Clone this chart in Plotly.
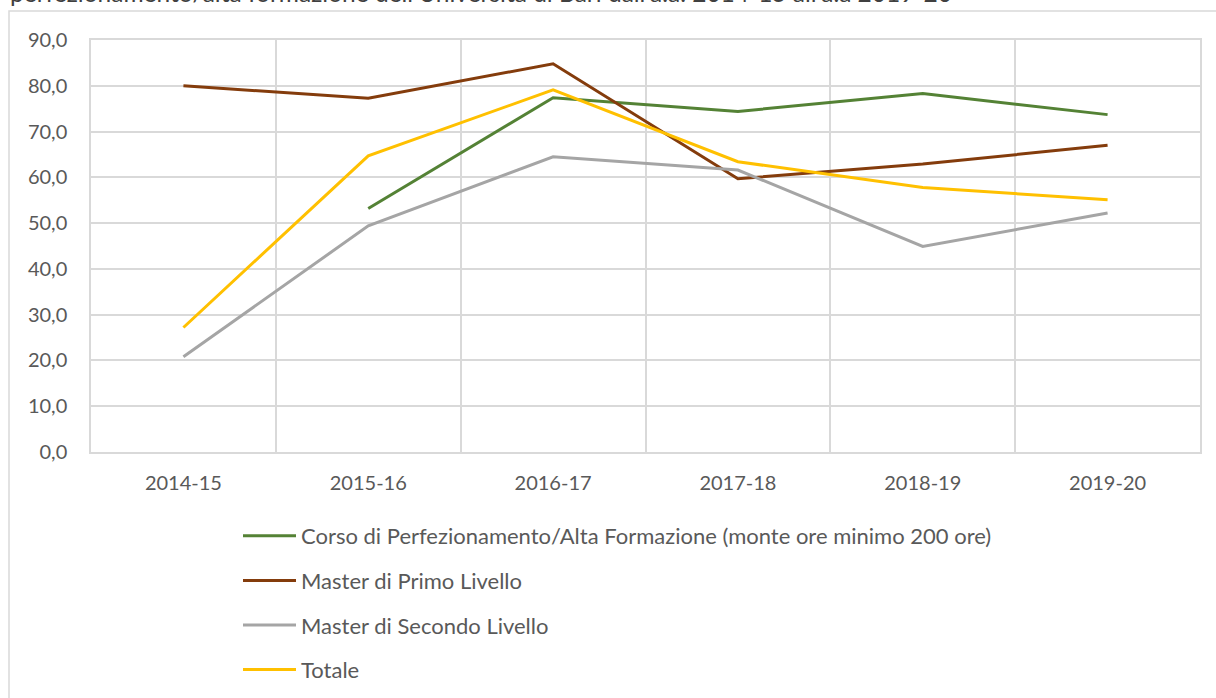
import plotly.graph_objects as go

categories = ["2014-15", "2015-16", "2016-17", "2017-18", "2018-19", "2019-20"]
corso = [None, 53.2, 77.4, 74.4, 78.3, 73.7]
primo = [80.0, 77.3, 84.8, 59.7, 62.9, 67.0]
secondo = [20.8, 49.4, 64.5, 61.6, 44.9, 52.2]
totale = [27.2, 64.7, 79.1, 63.4, 57.8, 55.1]

series_names = [
    "Corso di Perfezionamento/Alta Formazione (monte ore minimo 200 ore)",
    "Master di Primo Livello",
    "Master di Secondo Livello",
    "Totale",
]
series_values = [corso, primo, secondo, totale]
series_colors = ["#548235", "#843C0C", "#A5A5A5", "#FFC000"]

# page is 1216x698; body margin removed via post_script
W, H = 1216, 698
# plot area in page pixels
L, R, T, B = 91, 1200, 40, 452
FONT = "Lato"
TXT = "#595959"

fig = go.Figure()
for i, (name, vals, col) in enumerate(zip(series_names, series_values, series_colors)):
    fig.add_trace(go.Scatter(
        x=categories, y=vals, name=name, mode="lines",
        line=dict(color=col, width=3), connectgaps=False,
        legendgroup=f"g{i}",
    ))

def px_x(p):
    return (p - L) / (R - L)

def px_y(p):
    return (B - p) / (B - T)

fig.update_layout(
    width=W, height=H,
    margin=dict(l=L, r=W - R, t=T, b=H - B, pad=0, autoexpand=False),
    plot_bgcolor="white", paper_bgcolor="white",
    separators=",.",
    font=dict(family=FONT, size=20, color=TXT),
    showlegend=True,
    legend=dict(
        x=px_x(238), y=px_y(515), xanchor="left", yanchor="top",
        orientation="v", traceorder="grouped", tracegroupgap=13,
        font=dict(family=FONT, size=22, color=TXT),
        itemwidth=53, bgcolor="rgba(0,0,0,0)",
    ),
    xaxis=dict(
        type="category", range=[-0.5, 5.5], tickson="boundaries",
        showgrid=True, gridcolor="#D9D9D9", gridwidth=1.5,
        showline=True, linecolor="#D9D9D9", linewidth=1.5, mirror=True,
        ticks="", ticklabelstandoff=12,
        tickfont=dict(family=FONT, size=20, color=TXT),
        zeroline=False,
    ),
    yaxis=dict(
        range=[0, 90], dtick=10, tick0=0, tickformat=".1f",
        showgrid=True, gridcolor="#D9D9D9", gridwidth=1.5,
        showline=True, linecolor="#D9D9D9", linewidth=1.5, mirror=True,
        ticks="", ticklabelstandoff=18,
        tickfont=dict(family=FONT, size=20, color=TXT),
        zeroline=False,
    ),
    shapes=[dict(
        type="rect", xref="paper", yref="paper",
        x0=px_x(9), x1=px_x(1240), y0=px_y(720), y1=px_y(11),
        line=dict(color="#D9D9D9", width=1.5), fillcolor="rgba(0,0,0,0)", layer="below",
    )],
    annotations=[dict(
        text="perfezionamento/alta formazione dell'Università di Bari dall'a.a. 2014-15 all'a.a 2019-20",
        xref="paper", yref="paper", x=px_x(8), y=px_y(9),
        xanchor="left", yanchor="bottom", showarrow=False,
        font=dict(family=FONT, size=24.5, color="#404040"),
    )],
)

fig.write_html("out.html", config={"displayModeBar": False},
               post_script="document.body.style.margin='0';")
